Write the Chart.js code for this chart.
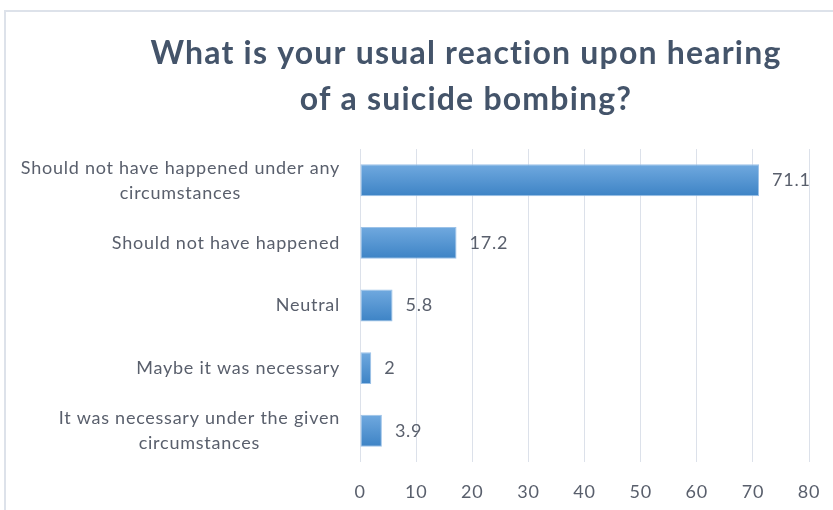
<!DOCTYPE html>
<html>
<head>
<meta charset="utf-8">
<script src="https://cdn.jsdelivr.net/npm/chart.js@4.4.1/dist/chart.umd.min.js"></script>
<style>
    html, body { margin: 0; padding: 0; background: #fff; }
    #frame {
        position: absolute; left: 4px; top: 10px;
        width: 829px; height: 500px;
        border-top: 2px solid #dde2ea;
        border-left: 2px solid #dde2ea;
    }
    #box { position: absolute; left: 0; top: 0; width: 827px; height: 498px; }
</style>
</head>
<body>
<div id="frame"><div id="box"><canvas id="reactionChart"></canvas></div></div>
<script>
// =====================================
// Usual reaction to a suicide bombing
// =====================================
const titleLines = ["What is your usual reaction upon hearing", "of a suicide bombing?"];
const categories = [
    ["Should not have happened under any", "circumstances"],
    ["Should not have happened"],
    ["Neutral"],
    ["Maybe it was necessary"],
    ["It was necessary under the given", "circumstances"]
];
const percentages = [71.1, 17.2, 5.8, 2, 3.9];
const xTicks = [0, 10, 20, 30, 40, 50, 60, 70, 80];

const textColor = "#595f6c";
const labelFont = "18px Lato";
const barPct = 0.51;

// vertical light-to-dark fill, one gradient per bar
function barFill(c) {
    const y = c.chart.scales.y;
    if (!y || y.bottom === undefined || c.dataIndex === undefined) return "#5b9bd5";
    const cy = y.getPixelForValue(c.dataIndex);
    const h = (y.bottom - y.top) / categories.length * barPct / 2;
    const grad = c.chart.ctx.createLinearGradient(0, cy - h, 0, cy + h);
    grad.addColorStop(0, "#70a9df");
    grad.addColorStop(1, "#3d83c5");
    return grad;
}

// title + wrapped category labels (lines centered on each other, block right-aligned)
const textPlugin = {
    id: "textPlugin",
    afterDraw(chart) {
        const ctx = chart.ctx;
        const area = chart.chartArea;
        ctx.save();
        ctx.fillStyle = "#44546a";
        ctx.font = "bold 32px Lato";
        ctx.letterSpacing = "1.2px";
        ctx.textAlign = "center";
        ctx.textBaseline = "middle";
        ctx.fillText(titleLines[0], 460, 42);
        ctx.fillText(titleLines[1], 460, 88);

        ctx.fillStyle = textColor;
        ctx.font = labelFont;
        ctx.letterSpacing = "0.75px";
        const y = chart.scales.y;
        categories.forEach((lines, i) => {
            const cy = y.getPixelForTick(i);
            const w = Math.max(...lines.map(l => ctx.measureText(l).width));
            const cx = area.left - 20 - w / 2;
            lines.forEach((l, j) => {
                ctx.fillText(l, cx, cy + (j - (lines.length - 1) / 2) * 25);
            });
        });

        // value labels
        ctx.textAlign = "left";
        chart.getDatasetMeta(0).data.forEach((bar, i) => {
            ctx.fillText(String(percentages[i]), bar.x + 13, bar.y);
        });

        // x tick labels
        ctx.textAlign = "center";
        const x = chart.scales.x;
        xTicks.forEach(v => {
            ctx.fillText(String(v), x.getPixelForValue(v), area.bottom + 30);
        });
        ctx.restore();
    }
};

new Chart(document.getElementById("reactionChart"), {
    type: "bar",
    data: {
        labels: categories.map(c => c.join(" ")),
        datasets: [{
            data: percentages,
            backgroundColor: barFill,
            borderColor: "#9cc2e8",
            borderWidth: 1,
            borderSkipped: false,
            barPercentage: barPct,
            categoryPercentage: 1
        }]
    },
    options: {
        indexAxis: "y",
        responsive: true,
        maintainAspectRatio: false,
        animation: false,
        layout: { padding: { top: 137, right: 24, left: 0, bottom: 0 } },
        plugins: {
            legend: { display: false },
            title: { display: false },
            tooltip: { enabled: false }
        },
        scales: {
            x: {
                min: 0,
                max: 80,
                afterBuildTicks: scale => { scale.ticks = xTicks.map(v => ({ value: v })); },
                afterFit: scale => { scale.height = 48; },
                grid: { color: "#dce1ea", lineWidth: 1, drawTicks: false },
                border: { display: false },
                ticks: { display: false }
            },
            y: {
                afterFit: scale => { scale.width = 354; },
                grid: { display: false },
                border: { display: false },
                ticks: { display: false }
            }
        }
    },
    plugins: [textPlugin]
});
</script>
</body>
</html>
